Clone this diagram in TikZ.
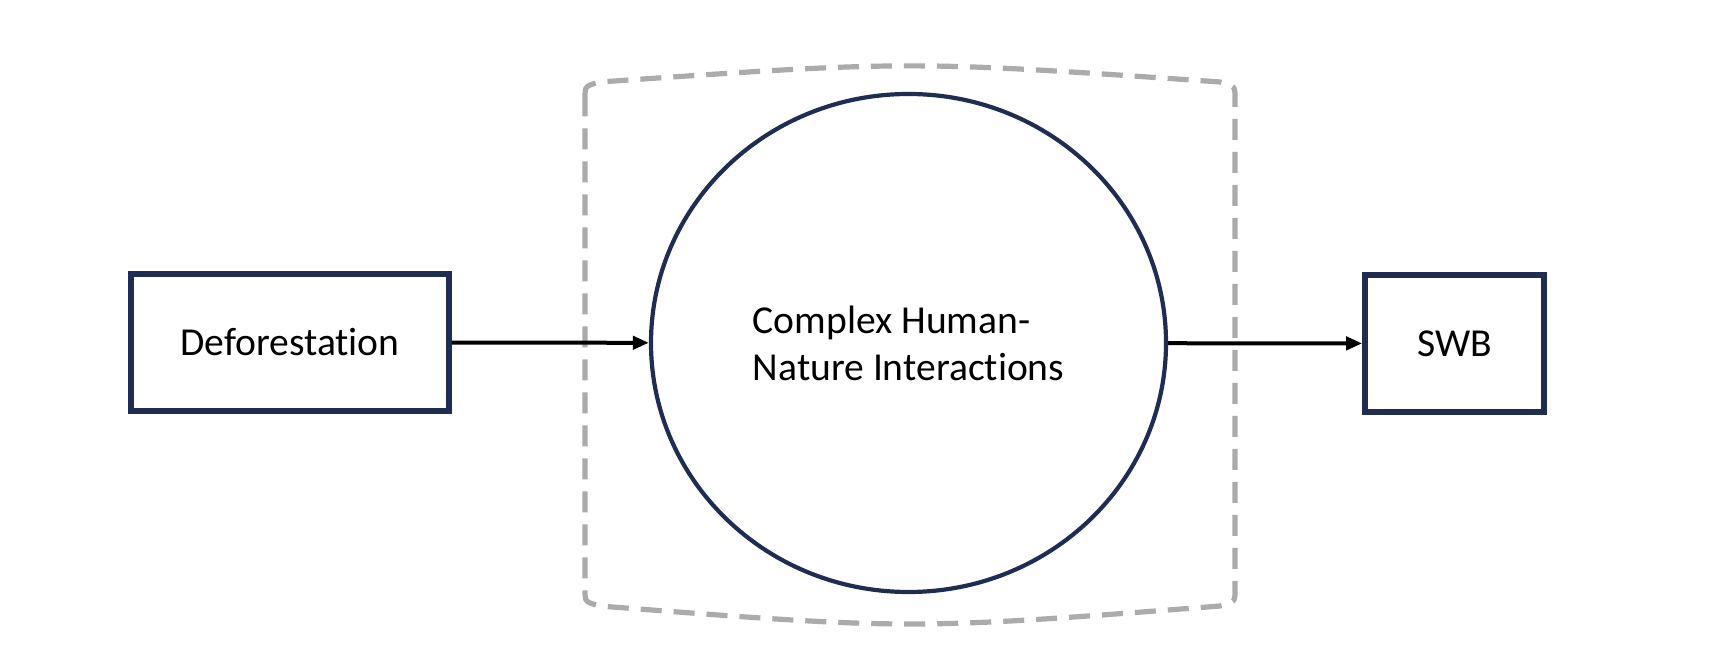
\documentclass[tikz,border=0pt]{standalone}
\usepackage{fontspec}
\setmainfont[Ligatures=NoCommon]{Carlito}
\usetikzlibrary{shapes,shapes.misc,arrows.meta}
\definecolor{navy}{RGB}{31,45,82}
\definecolor{dashgray}{RGB}{172,170,170}
\begin{document}
\begin{tikzpicture}[x=0.5pt,y=-0.5pt, ->, >={Triangle[length=8pt,width=6.5pt]},
      every node/.append style={font=\fontsize{19.8}{23.5}\selectfont,color=black},
      link/.style={line width=2pt,black}]
    \tikzstyle{factor} = [draw=navy,line width=2.8pt,rectangle,minimum height=68.5pt,-]
    \tikzstyle{system} = [draw=navy,line width=2.1pt,ellipse,minimum width=257.5pt,minimum height=249pt,align=left,-]
    \useasboundingbox (0,0) rectangle (1712,672);
    % dashed frame round the interactions
    \draw[-,dashgray,line width=2.6pt,dash pattern=on 10.5pt off 6pt]
      (585,98) .. controls (585,86) .. (600,82)
      .. controls (910,60.5) .. (1220,82)
      .. controls (1235,86) .. (1235,98)
      -- (1235,590) .. controls (1235,602) .. (1220,606)
      .. controls (910,630) .. (600,606)
      .. controls (585,602) .. (585,590) -- cycle;
    \node (defor) [factor,minimum width=159pt] at (290,342.5) {Deforestation};
    \node (hni) [system] at (908.5,343) {Complex Human-\\Nature Interactions};
    \node (swb) [factor,minimum width=89.5pt] at (1454.5,343.5) {SWB};
    \draw[link] (defor) -- (hni);
    \draw[link] (hni) -- (swb);
  \end{tikzpicture}
\end{document}
